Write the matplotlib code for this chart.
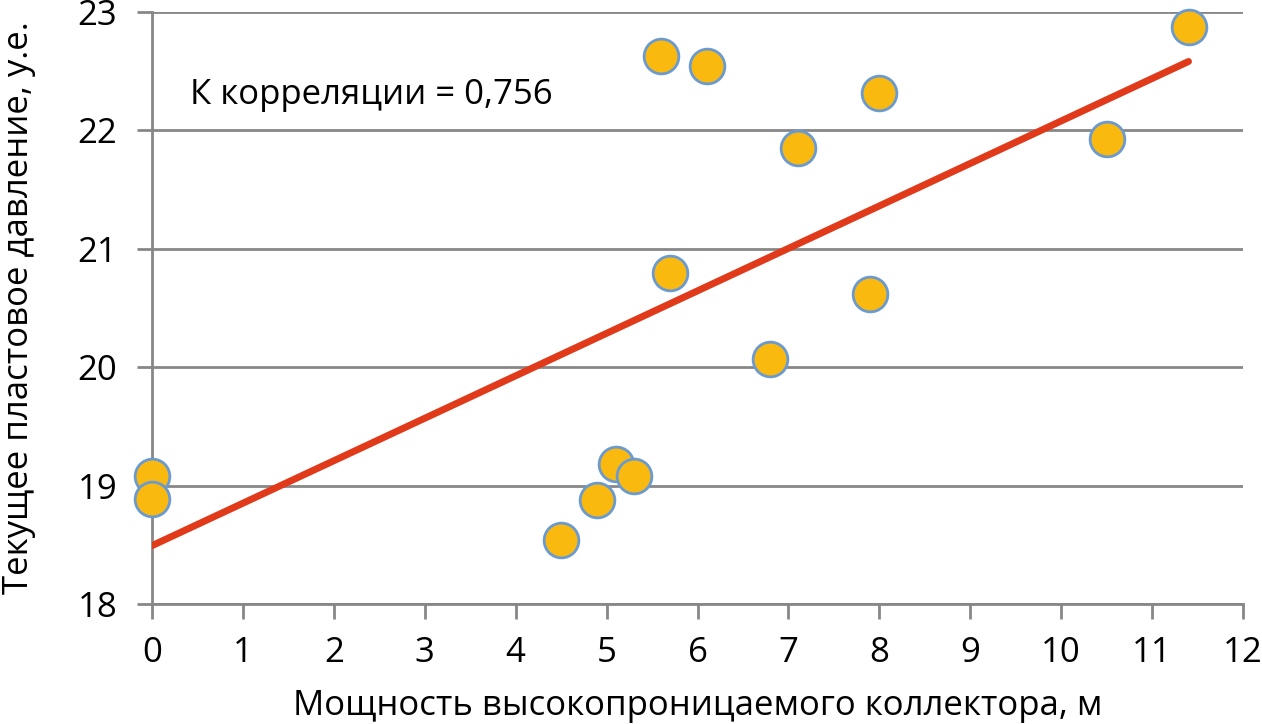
import numpy as np
import matplotlib.pyplot as plt

plt.rcParams['font.family'] = ['Open Sans', 'DejaVu Sans']

# мощность коллектора, м / текущее пластовое давление, у.е.
x_vals = [0.0, 0.0, 4.5, 4.9, 5.1, 5.3, 5.6, 5.7, 6.1, 6.8, 7.1, 7.9, 8.0, 10.5, 11.4]
y_vals = [19.08, 18.89, 18.54, 18.88, 19.18, 19.08, 22.63, 20.80, 22.54, 20.07, 21.85, 20.62, 22.32, 21.93, 22.87]
corr_text = "К корреляции = 0,756"

x = np.array(x_vals)
y = np.array(y_vals)
k, b = np.polyfit(x, y, 1)
xl = np.array([0, x.max()])

fig = plt.figure(figsize=(12.62, 7.24), dpi=100)
ax = fig.add_axes([0.1204, 0.1657, 0.8646, 0.8177])

grid_c = '#878787'
ax.set_xlim(0, 12)
ax.set_ylim(18, 23)
ax.set_xticks(range(0, 13))
ax.set_yticks(range(18, 24))
ax.yaxis.grid(True, color=grid_c, linewidth=2)
ax.set_axisbelow(True)
for s in ['top', 'right']:
    ax.spines[s].set_visible(False)
for s in ['left', 'bottom']:
    ax.spines[s].set_color(grid_c)
    ax.spines[s].set_linewidth(2)
ax.tick_params(axis='both', colors=grid_c, width=2, length=11, labelsize=25,
               labelcolor='black')
ax.tick_params(axis='x', pad=12)
ax.tick_params(axis='y', pad=14)

ax.plot(xl, k * xl + b, color='#E03A1A', linewidth=5, solid_capstyle='round', zorder=3)
ax.plot(x, y, 'o', markersize=25, markerfacecolor='#F9B90F',
        markeredgecolor='#6A9AD0', markeredgewidth=2, clip_on=False, zorder=4)

ax.text(0.42, 22.3, corr_text, fontsize=25, va='center', ha='left')
ax.set_xlabel('Мощность высокопроницаемого коллектора, м', fontsize=25, labelpad=14)
ax.set_ylabel('Текущее пластовое давление, у.е.', fontsize=25, labelpad=30)

fig.savefig('out.png', dpi=100)
